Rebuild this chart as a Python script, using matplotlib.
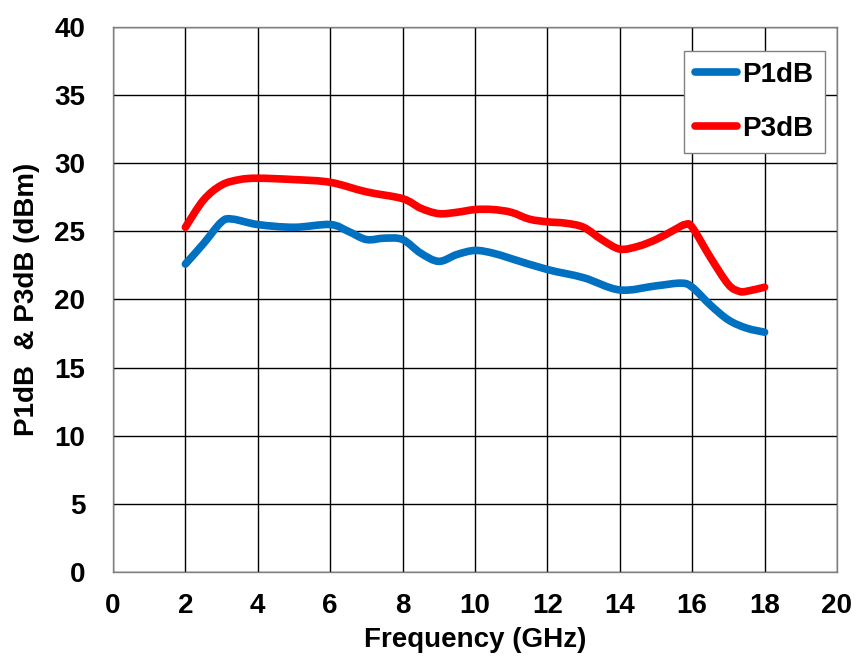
import numpy as np
import matplotlib.pyplot as plt
from matplotlib.path import Path
from matplotlib.patches import PathPatch
from matplotlib.lines import Line2D

plt.rcParams['font.family'] = ['Liberation Sans', 'DejaVu Sans']
plt.rcParams['font.weight'] = 'bold'

# %% data
freq_p1 = [2, 2.5, 3, 3.3, 4, 5, 6, 6.5, 7, 7.5, 8, 8.5, 9, 9.5, 10, 10.5,
           11, 12, 13, 14, 15, 15.7, 16, 16.5, 17, 17.5, 18]
p1db = [22.6, 24.1, 25.7, 25.9, 25.5, 25.3, 25.5, 25.0, 24.4, 24.5, 24.4, 23.4,
        22.8, 23.3, 23.6, 23.4, 23.0, 22.2, 21.6, 20.7, 21.0, 21.2, 20.9,
        19.6, 18.5, 17.9, 17.6]

freq_p3 = [2, 2.5, 3, 3.5, 4, 5, 6, 7, 8, 8.5, 9, 9.5, 10, 10.5, 11, 11.5, 12,
           12.5, 13, 13.5, 14, 14.5, 15, 15.5, 15.8, 16, 16.5, 17, 17.3, 17.5, 18]
p3db = [25.3, 27.3, 28.4, 28.8, 28.9, 28.8, 28.6, 27.9, 27.4, 26.7, 26.3, 26.4,
        26.6, 26.6, 26.4, 25.9, 25.7, 25.6, 25.3, 24.4, 23.7, 23.9, 24.4, 25.1,
        25.5, 25.3, 23.1, 21.1, 20.6, 20.6, 20.9]


# %% smoothed line (Excel style, Catmull-Rom as bezier path)
def smooth_path(x, y):
    p = np.column_stack([x, y]).astype(float)
    verts = [p[0]]
    codes = [Path.MOVETO]
    n = len(p)
    for i in range(n - 1):
        p0 = p[i - 1] if i > 0 else p[i]
        p3 = p[i + 2] if i + 2 < n else p[i + 1]
        c1 = p[i] + (p[i + 1] - p0) / 6.0
        c2 = p[i + 1] - (p3 - p[i]) / 6.0
        verts += [c1, c2, p[i + 1]]
        codes += [Path.CURVE4] * 3
    return Path(verts, codes)


# %% figure
fig = plt.figure(figsize=(8.58, 6.58), dpi=100)
ax = fig.add_axes([0.1317, 0.1307, 0.8438, 0.8283])

series = [(freq_p1, p1db, '#0070C0', 'P1dB'), (freq_p3, p3db, '#FF0000', 'P3dB')]
handles = []
for fx, fy, col, lab in series:
    patch = PathPatch(smooth_path(fx, fy), facecolor='none', edgecolor=col,
                      lw=5.5, capstyle='round', joinstyle='round', zorder=3)
    ax.add_patch(patch)
    handles.append(Line2D([], [], color=col, lw=5.5, solid_capstyle='round', label=lab))

ax.set_xlim(0, 20)
ax.set_ylim(0, 40)
ax.set_xticks(np.arange(0, 21, 2))
ax.set_yticks(np.arange(0, 41, 5))
ax.grid(True, color='black', lw=1)
ax.tick_params(length=0, labelsize=20)
ax.tick_params(axis='x', pad=15)
ax.tick_params(axis='y', pad=20)
for s in ax.spines.values():
    s.set_color('#808080')
    s.set_linewidth(1)

ax.set_xlabel('Frequency (GHz)', fontsize=20, fontweight='bold', labelpad=6)
ax.set_ylabel('P1dB  & P3dB (dBm)', fontsize=20, fontweight='bold', labelpad=10)

leg = ax.legend(handles=handles, loc='upper right', bbox_to_anchor=(0.983, 0.956),
                borderaxespad=0, fontsize=20, handlelength=1.5, handletextpad=0.2,
                borderpad=0.4, labelspacing=1.0, fancybox=False, framealpha=1)
leg.get_frame().set_edgecolor('#808080')
leg.get_frame().set_linewidth(1)

fig.savefig('out.png', dpi=100)
